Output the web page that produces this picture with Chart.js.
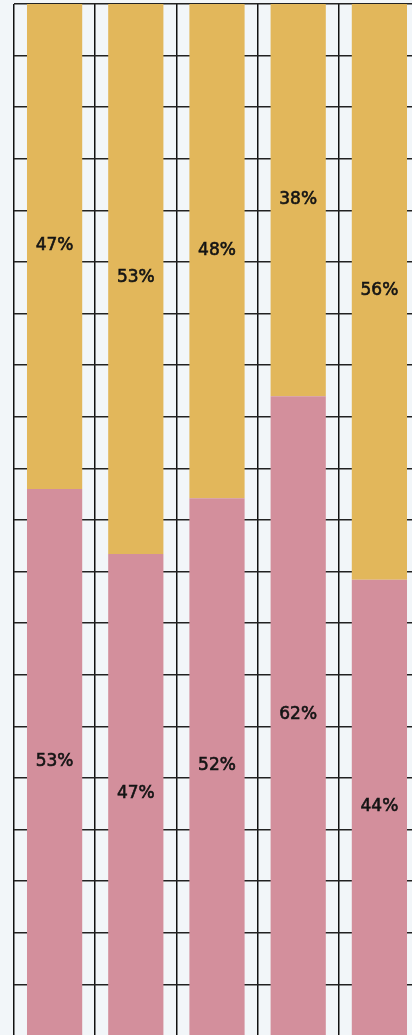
<!DOCTYPE html>
<html>
<head>
<meta charset="utf-8">
<script src="https://cdn.jsdelivr.net/npm/chart.js@4"></script>
<style>
  html, body { margin: 0; padding: 0; background: #f2f6f9; overflow: hidden; }
  #wrap { position: absolute; left: 0; top: 0; }
</style>
</head>
<body>
<div id="wrap"><canvas id="myChart" width="440" height="1060"></canvas></div>
<script>
var categories = ['A', 'B', 'C', 'D', 'E'];
var pinkValues = [53.0, 46.7, 52.1, 62.0, 44.2];
var yellowValues = [47.0, 53.3, 47.9, 38.0, 55.8];

var barLabels = {
  id: 'barLabels',
  afterDatasetsDraw: function (chart) {
    var c = chart.ctx;
    c.save();
    c.font = '17px "DejaVu Sans"';
    c.fillStyle = '#141414';
    c.strokeStyle = '#141414';
    c.lineWidth = 0.6;
    c.textAlign = 'center';
    c.textBaseline = 'middle';
    chart.data.datasets.forEach(function (ds, i) {
      chart.getDatasetMeta(i).data.forEach(function (bar, j) {
        var mid = (bar.y + bar.base) / 2;
        var txt = Math.round(ds.data[j]) + '%';
        c.fillText(txt, bar.x, mid - 1);
        c.strokeText(txt, bar.x, mid - 1);
      });
    });
    c.restore();
  }
};

var ctxx = document.getElementById('myChart');
var myChartt = new Chart(ctxx, {
  type: 'bar',
  data: {
    labels: categories,
    datasets: [{
      data: pinkValues,
      backgroundColor: '#d38f9c',
      borderWidth: 0
    }, {
      data: yellowValues,
      backgroundColor: '#e2b75b',
      borderWidth: 0
    }]
  },
  options: {
    responsive: false,
    animation: false,
    layout: { padding: { left: 14, top: 4, right: 20, bottom: 24 } },
    barPercentage: 0.68,
    categoryPercentage: 1,
    plugins: {
      legend: { display: false },
      tooltip: { enabled: false }
    },
    scales: {
      x: {
        stacked: true,
        ticks: { display: false },
        grid: { color: '#111', lineWidth: 1.5, drawTicks: false },
        border: { display: false }
      },
      y: {
        stacked: true,
        min: 0,
        max: 100,
        ticks: { display: false, stepSize: 5 },
        grid: { color: '#222', lineWidth: 1.5, drawTicks: false },
        border: { display: false }
      }
    }
  },
  plugins: [barLabels]
});
</script>
</body>
</html>
